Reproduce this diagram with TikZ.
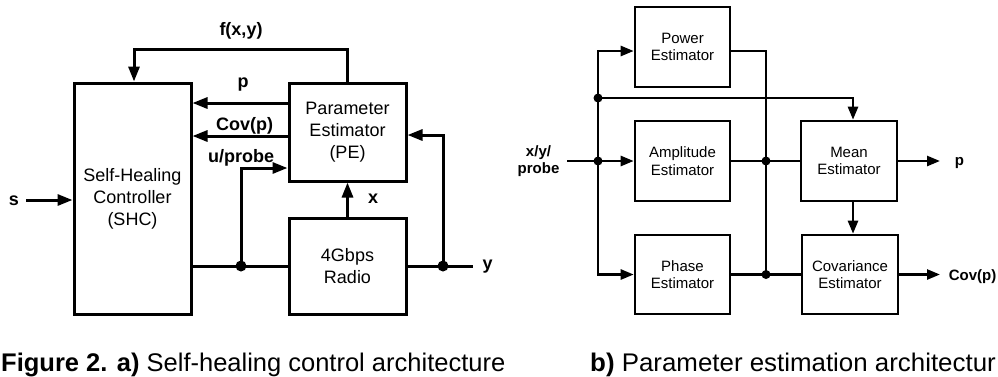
\documentclass[tikz,border=0pt]{standalone}
\usepackage{fontspec}
\setmainfont{Liberation Sans}
\usetikzlibrary{arrows.meta}
\begin{document}
\begin{tikzpicture}[x=1pt,y=-1pt,
  bigbox/.style={draw, line width=3pt, minimum width=117pt, align=center, inner sep=0pt, font=\fontsize{18}{22}\selectfont},
  smallbox/.style={draw, line width=2.6pt, minimum width=95pt, minimum height=80pt, align=center, inner sep=0pt, font=\fontsize{15}{17.5}\selectfont},
  bigline/.style={line width=3pt},
  smallline/.style={line width=2.5pt},
  bigarr/.style={bigline, -{Triangle[length=15pt,width=11pt]}},
  smallarr/.style={smallline, -{Triangle[length=13pt,width=10pt]}},
  bigdot/.style={circle, fill, inner sep=0pt, minimum size=11pt},
  smalldot/.style={circle, fill, inner sep=0pt, minimum size=9pt},
  biglbl/.style={font=\fontsize{18}{22}\selectfont\bfseries, inner sep=0pt, anchor=base},
  smalllbl/.style={font=\fontsize{15}{17.5}\selectfont\bfseries, inner sep=0pt, anchor=base},
  captxt/.style={font=\fontsize{25.5}{30}\selectfont, inner sep=0pt, anchor=base west}
]
\useasboundingbox (0,0) rectangle (998,376);
\clip (0,0) rectangle (998,376);

% ---------- left diagram ----------
\node[bigbox, minimum height=231pt] (shc) at (132.5,198.5) {Self-Healing\\Controller\\(SHC)};
\node[bigbox, minimum height=98pt] (pe) at (347.5,132) {Parameter\\Estimator\\(PE)};
\node[bigbox, minimum height=96pt] (radio) at (347.5,266) {4Gbps\\Radio};

\coordinate (ftop) at (134,49);
\coordinate (sin) at (26,200);
\coordinate (ud) at (241,266);
\coordinate (yd) at (443,266);
\coordinate (yend) at (473,266);
\coordinate (py) at (0,103);
\coordinate (cy) at (0,136);
\coordinate (uy) at (0,168);
\coordinate (fy) at (0,135);

\draw[bigarr] (pe.north) |- (ftop) -- (ftop |- shc.north);
\draw[bigarr] (pe.west |- py) -- (shc.east |- py);
\draw[bigarr] (pe.west |- cy) -- (shc.east |- cy);
\draw[bigline] (shc.east |- ud) -- (radio.west |- ud);
\draw[bigarr] (ud) |- (pe.west |- uy);
\draw[bigarr] (radio.north) -- (pe.south);
\draw[bigline] (radio.east |- yd) -- (yend);
\draw[bigarr] (yd) |- (pe.east |- fy);
\draw[bigarr] (sin) -- (shc.west |- sin);
\node[bigdot] (dot1) at (ud) {};
\node[bigdot] (dot2) at (yd) {};

\node[biglbl] (lf) at (241,35) {f(x,y)};
\node[biglbl] (lp) at (243,87.5) {p};
\node[biglbl] (lc) at (244.5,130) {Cov(p)};
\node[biglbl] (lu) at (241,162) {u/probe};
\node[biglbl] (lx) at (373,203) {x};
\node[biglbl] (ly) at (487.5,269.5) {y};
\node[biglbl] (ls) at (14,205) {s};

% ---------- right diagram ----------
\node[smallbox] (power) at (682.5,47) {Power\\Estimator};
\node[smallbox] (amp) at (682.5,161) {Amplitude\\Estimator};
\node[smallbox, minimum height=79pt] (phase) at (682.5,274.5) {Phase\\Estimator};
\node[smallbox, minimum width=96pt] (mean) at (849,161) {Mean\\Estimator};
\node[smallbox, minimum width=96pt, minimum height=79pt] (cov) at (850,274.5) {Covariance\\Estimator};

\coordinate (in) at (567,161);
\coordinate (b1) at (598,161);
\coordinate (b2) at (598,98);
\coordinate (c1) at (766,161);
\coordinate (c2) at (766,274.5);
\coordinate (m1) at (853,98);
\coordinate (m2) at (853,0);
\coordinate (pw) at (0,51);
\coordinate (pout) at (940,161);
\coordinate (cout) at (940,274.5);

\draw[smallarr] (in) -- (amp.west);
\draw[smallarr] (b1) |- (power.west |- pw);
\draw[smallarr] (b1) |- (phase.west);
\draw[smallarr] (b2) -- (m1) -- (m1 |- mean.north);
\draw[smallline] (power.east |- pw) -| (c2);
\draw[smallline] (amp.east) -- (mean.west);
\draw[smallline] (phase.east) -- (cov.west);
\draw[smallarr] (mean.south -| m2) -- (cov.north -| m2);
\draw[smallarr] (mean.east) -- (pout);
\draw[smallarr] (cov.east) -- (cout);
\node[smalldot] (dot3) at (b1) {};
\node[smalldot] (dot4) at (b2) {};
\node[smalldot] (dot5) at (c1) {};
\node[smalldot] (dot6) at (c2) {};

\node[smalllbl, anchor=center, align=center, font=\fontsize{15}{17}\selectfont\bfseries] (lin) at (538.5,161) {x/y/\\probe};
\node[smalllbl] (lpo) at (959.5,165) {p};
\node[smalllbl] (lco) at (972.5,280) {Cov(p)};

% ---------- captions ----------
\node[captxt] (cap1) at (1,371) {\textbf{Figure 2. a)} Self-healing control architecture};
\node[captxt, xscale=1.015, transform shape] (cap2) at (590,371) {\textbf{b)} Parameter estimation architectur};
\end{tikzpicture}
\end{document}
